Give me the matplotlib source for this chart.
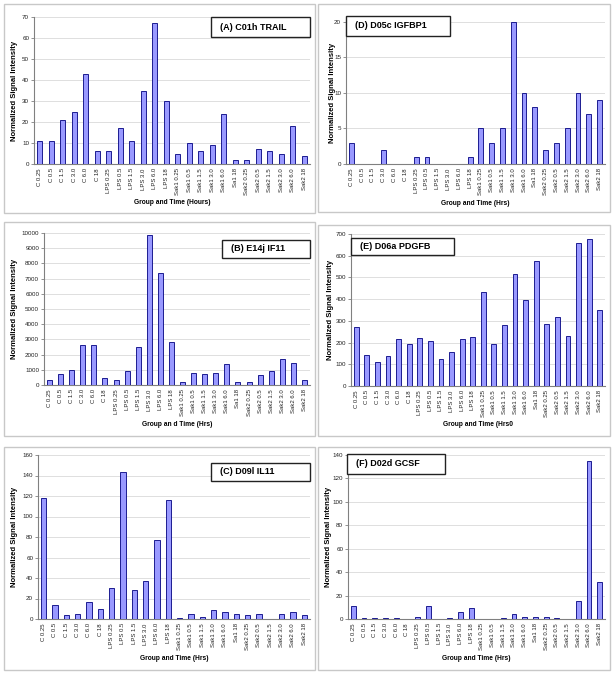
import matplotlib
matplotlib.use('Agg')
import matplotlib.pyplot as plt
from matplotlib.patches import Rectangle

plt.rcParams['font.family'] = ['Liberation Sans', 'DejaVu Sans']

W, H = 614, 675
fig = plt.figure(figsize=(W / 100, H / 100), dpi=100)

categories = ["C 0.25", "C 0.5", "C 1.5", "C 3.0", "C 6.0", "C 18",
              "LPS 0.25", "LPS 0.5", "LPS 1.5", "LPS 3.0", "LPS 6.0", "LPS 18",
              "Sak1 0.25", "Sak1 0.5", "Sak1 1.5", "Sak1 3.0", "Sak1 6.0", "Sa1 18",
              "Sak2 0.25", "Sak2 0.5", "Sak2 1.5", "Sak2 3.0", "Sak2 6.0", "Sak2 18"]

vals_A = [11, 11, 21, 25, 43, 6, 6, 17, 11, 35, 67, 30,
          5, 10, 6, 9, 24, 2, 2, 7, 6, 5, 18, 4]
vals_B = [350, 720, 1000, 2600, 2600, 450, 350, 900, 2500, 9900, 7400, 2850,
          230, 820, 700, 820, 1380, 230, 230, 650, 950, 1700, 1450, 300]
vals_C = [118, 14, 4, 5, 17, 10, 30, 143, 28, 37, 77, 116,
          1, 5, 2, 9, 7, 5, 4, 5, 0, 5, 7, 4]
vals_D = [3, 0, 0, 2, 0, 0, 1, 1, 0, 0, 0, 1,
          5, 3, 5, 20, 10, 8, 2, 3, 5, 10, 7, 9]
vals_E = [270, 145, 112, 140, 218, 195, 222, 205, 125, 155, 218, 226,
          433, 195, 282, 517, 397, 577, 286, 320, 228, 660, 675, 352]
vals_F = [11, 0.7, 0.7, 0.7, 0.7, 0, 2, 11, 0, 0.7, 6, 9,
          0, 0, 0.7, 4, 2, 2, 2, 0.7, 0, 15, 135, 32]

titles = ["(A) C01h TRAIL", "(B) E14j IF11", "(C) D09l IL11",
          "(D) D05c IGFBP1", "(E) D06a PDGFB", "(F) D02d GCSF"]
xlabels = ["Group and Time (Hours)", "Group an d Time (Hrs)", "Group and Time (Hrs)",
           "Group and Time (Hrs)", "Group and Time (Hrs0", "Group and Time (Hrs)"]
ylabel = "Normalized Signal Intensity"
ymax = [70, 10000, 160, 20, 700, 140]
ystep = [10, 1000, 20, 5, 100, 20]

# layout in pixels
outer = [(4, 4, 315, 213), (4, 222, 315, 436), (4, 447, 315, 670),
         (318, 4, 610, 212), (318, 225, 610, 436), (318, 447, 610, 670)]
plotbox = [(34, 17, 310, 164), (44, 233, 310, 385), (38, 455, 310, 619),
           (346, 22, 605, 164), (351, 234, 605, 386), (348, 455, 605, 619)]
tbox = [(211, 17, 310, 37), (222, 240, 310, 258), (211, 463, 310, 481),
        (346, 16, 450, 36), (351, 238, 454, 255), (347, 454, 445, 474)]
xlab_y = [203, 425, 658, 204, 425, 658]
ylab_x = [15, 15, 15, 332, 330, 329]

series = [vals_A, vals_B, vals_C, vals_D, vals_E, vals_F]


def fx(x):
    return x / W


def fy(y):
    return 1 - y / H


for i in range(6):
    # panel border
    l, t, r, b = outer[i]
    fig.add_artist(Rectangle((fx(l), fy(b)), fx(r - l), (b - t) / H,
                             transform=fig.transFigure, fill=False,
                             edgecolor='#c8c8c8', lw=1.0))
    l, t, r, b = plotbox[i]
    ax = fig.add_axes([fx(l), fy(b), fx(r - l), (b - t) / H])
    x = list(range(len(categories)))
    ax.bar(x, series[i], width=0.45, color='#9999ff', edgecolor='#000080', lw=0.6, zorder=3)
    ax.set_xlim(-0.5, len(categories) - 0.5)
    ax.set_ylim(0, ymax[i])
    ax.set_yticks(list(range(0, ymax[i] + 1, ystep[i])))
    ax.set_xticks(x)
    ax.set_xticklabels(categories, rotation=90, fontsize=4.3, color='#222222')
    ax.tick_params(axis='x', length=0, pad=3)
    ax.tick_params(axis='y', length=2, width=0.6, color='#808080', labelsize=4.5,
                   labelcolor='#222222', pad=1.5)
    ax.grid(axis='y', color='#d9d9d9', lw=0.6, zorder=0)
    for s in ['top', 'right']:
        ax.spines[s].set_visible(False)
    for s in ['left', 'bottom']:
        ax.spines[s].set_color('#808080')
        ax.spines[s].set_linewidth(0.8)
    ax.set_facecolor('none')
    # labels
    fig.text(fx((l + r) / 2), fy(xlab_y[i]), xlabels[i], ha='center', va='center',
             fontsize=4.8, fontweight='bold')
    fig.text(fx(ylab_x[i]), fy((t + b) / 2), ylabel, ha='center', va='center',
             rotation=90, fontsize=5.5, fontweight='bold')
    # title box
    tl, tt, tr, tb = tbox[i]
    fig.add_artist(Rectangle((fx(tl), fy(tb)), fx(tr - tl), (tb - tt) / H,
                             transform=fig.transFigure, facecolor='white',
                             edgecolor='#222222', lw=1.0, zorder=10))
    fig.text(fx(tl + 9), fy((tt + tb) / 2), titles[i], ha='left', va='center',
             fontsize=6.5, fontweight='bold', zorder=11)

fig.savefig('out.png', dpi=100)
